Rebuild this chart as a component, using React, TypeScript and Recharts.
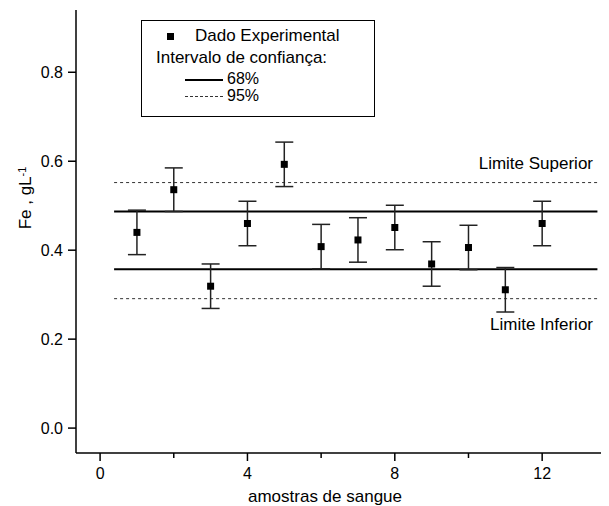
import React from 'react';
import { ScatterChart, Scatter, XAxis, YAxis, ErrorBar, ReferenceLine } from 'recharts';

// amostras (eixo x) e valores de Fe
const samples = [1, 2, 3, 4, 5, 6, 7, 8, 9, 10, 11, 12];
const feValues = [0.44, 0.536, 0.319, 0.46, 0.593, 0.408, 0.423, 0.451, 0.369, 0.406, 0.311, 0.46];
const feErrors = [0.05, 0.049, 0.05, 0.05, 0.05, 0.05, 0.05, 0.05, 0.05, 0.05, 0.05, 0.05];

// intervalos de confiança
const limits68 = [0.357, 0.487];
const limits95 = [0.291, 0.552];
const lineSpan = [0.38, 13.5];

const xTicks = [0, 2, 4, 6, 8, 10, 12];
const xMajor = [0, 4, 8, 12];
const yTicks = [0, 0.2, 0.4, 0.6, 0.8];

const FONT = '"Liberation Sans", Arial, sans-serif';

const data = samples.map((s, i) => ({ x: s, y: feValues[i], err: feErrors[i] }));

const XTick = (props: any) => {
  const { x, y, payload } = props;
  const major = xMajor.includes(payload.value);
  return (
    <g>
      <line x1={x} y1={y} x2={x} y2={y + (major ? 8 : 5)} stroke="#000" strokeWidth={1.5} />
      {major && (
        <text x={x} y={y + 26} textAnchor="middle" fontSize={16} fontFamily={FONT} fill="#000">
          {payload.value}
        </text>
      )}
    </g>
  );
};

const YTick = (props: any) => {
  const { x, y, payload } = props;
  return (
    <g>
      <line x1={x - 8} y1={y} x2={x} y2={y} stroke="#000" strokeWidth={1.5} />
      <text x={x - 13} y={y + 6} textAnchor="end" fontSize={16} fontFamily={FONT} fill="#000">
        {payload.value.toFixed(1)}
      </text>
    </g>
  );
};

const Square = (props: any) => {
  const { cx, cy } = props;
  return <rect x={cx - 3.5} y={cy - 3.5} width={7} height={7} fill="#000" />;
};

const txt: React.CSSProperties = {
  position: 'absolute',
  fontFamily: FONT,
  fontSize: 17,
  lineHeight: '20px',
  whiteSpace: 'nowrap',
  color: '#000',
};

const tight: React.CSSProperties = { ...txt, fontSize: 16, lineHeight: '14px' };

export default function App() {
  return (
    <div style={{ position: 'relative', width: 601, height: 498, overflow: 'hidden', background: '#fff' }}>
      <ScatterChart width={608} height={498} margin={{ top: 2, right: 2, bottom: 0, left: 0 }}>
        <XAxis
          dataKey="x"
          type="number"
          domain={[-0.654, 13.95]}
          allowDataOverflow
          ticks={xTicks}
          interval={0}
          tick={<XTick />}
          tickLine={false}
          tickSize={0}
          tickMargin={0}
          height={53}
          axisLine={{ stroke: '#000', strokeWidth: 1.5 }}
        />
        <XAxis
          xAxisId="top"
          orientation="top"
          dataKey="x"
          type="number"
          domain={[-0.654, 13.95]}
          allowDataOverflow
          tick={false}
          tickLine={false}
          height={0}
          axisLine={{ stroke: '#000', strokeWidth: 1.5 }}
        />
        <YAxis
          dataKey="y"
          type="number"
          domain={[-0.056, 0.94]}
          allowDataOverflow
          ticks={yTicks}
          interval={0}
          tick={<YTick />}
          tickLine={false}
          tickSize={0}
          tickMargin={0}
          width={68}
          axisLine={{ stroke: '#000', strokeWidth: 1.5 }}
        />
        {limits95.map((v) => (
          <ReferenceLine
            key={'d' + v}
            segment={[{ x: lineSpan[0], y: v }, { x: lineSpan[1], y: v }]}
            stroke="#333"
            strokeWidth={1}
            strokeDasharray="3 3"
          />
        ))}
        {limits68.map((v) => (
          <ReferenceLine
            key={'s' + v}
            segment={[{ x: lineSpan[0], y: v }, { x: lineSpan[1], y: v }]}
            stroke="#000"
            strokeWidth={2}
          />
        ))}
        <Scatter data={data} shape={<Square />} isAnimationActive={false}>
          <ErrorBar dataKey="err" direction="y" width={9} stroke="#222" strokeWidth={1.5} />
        </Scatter>
      </ScatterChart>

      {/* legenda */}
      <div
        style={{
          position: 'absolute',
          left: 133,
          top: 12,
          width: 234,
          height: 97,
          border: '1px solid #000',
          boxSizing: 'border-box',
        }}
      >
        <div style={{ position: 'absolute', left: 25, top: 12, width: 7, height: 7, background: '#000' }} />
        <span style={{ ...txt, left: 53, top: 5 }}>Dado Experimental</span>
        <span style={{ ...txt, left: 14, top: 27 }}>Intervalo de confiança:</span>
        <div style={{ position: 'absolute', left: 43, top: 58, width: 38, borderTop: '2px solid #000' }} />
        <span style={{ ...tight, left: 85, top: 51 }}>68%</span>
        <div style={{ position: 'absolute', left: 43, top: 75, width: 38, borderTop: '1px dashed #333' }} />
        <span style={{ ...tight, left: 85, top: 68 }}>95%</span>
      </div>

      <span style={{ ...txt, right: 601 - 585, top: 146 }}>Limite Superior</span>
      <span style={{ ...txt, right: 601 - 585, top: 307 }}>Limite Inferior</span>

      <span style={{ ...txt, left: 317, top: 479, transform: 'translateX(-50%)' }}>amostras de sangue</span>
      <span
        style={{
          ...txt,
          left: 18,
          top: 190,
          transform: 'translate(-50%, -50%) rotate(-90deg)',
        }}
      >
        Fe , gL<sup style={{ fontSize: 11, verticalAlign: 'top', lineHeight: '12px' }}>-1</sup>
      </span>
    </div>
  );
}
